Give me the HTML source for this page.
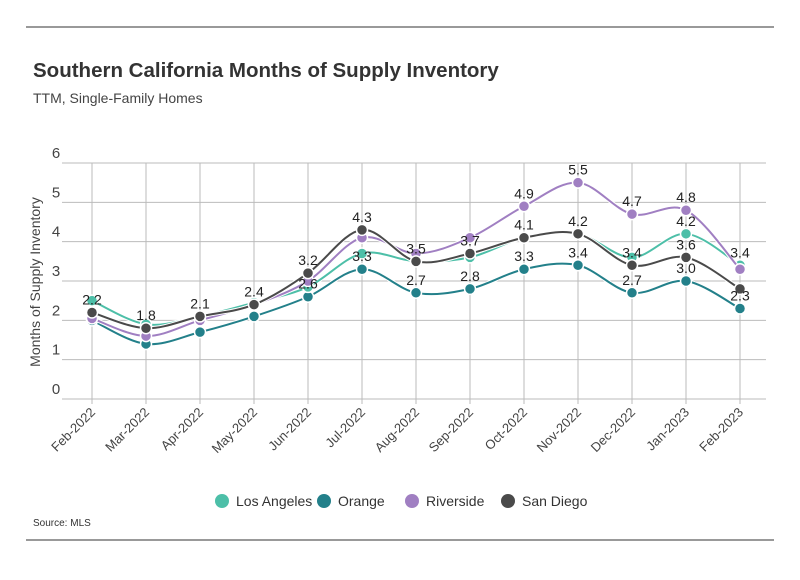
<!DOCTYPE html>
<html><head><meta charset="utf-8"><style>
body{margin:0;background:#fff;font-family:"Liberation Sans",sans-serif;}
svg text{font-family:"Liberation Sans",sans-serif;}
</style></head><body>
<svg id="c" width="800" height="575" xmlns="http://www.w3.org/2000/svg">
<line x1="26" y1="27" x2="774" y2="27" stroke="#333" stroke-width="1"/>
<line x1="26" y1="540" x2="774" y2="540" stroke="#333" stroke-width="1"/>
<text x="33" y="77" font-size="20.5" font-weight="bold" fill="#333">Southern California Months of Supply Inventory</text>
<text x="33" y="103" font-size="14" fill="#444">TTM, Single-Family Homes</text>
<text x="40" y="282" font-size="14" fill="#444" transform="rotate(-90 40 282)" text-anchor="middle">Months of Supply Inventory</text>
<text x="33" y="526" font-size="10" fill="#333">Source: MLS</text>
<g id="grid"></g><g id="series"></g><g id="labels"></g><g id="legend"></g>
</svg>
<script>
const months=["Feb-2022","Mar-2022","Apr-2022","May-2022","Jun-2022","Jul-2022","Aug-2022","Sep-2022","Oct-2022","Nov-2022","Dec-2022","Jan-2023","Feb-2023"];
const seriesNames=["Los Angeles","Orange","Riverside","San Diego"];
const seriesColors=["#4dbfa8","#23808a","#a07fc2","#4a4a4a"];
const losAngeles=[2.5,1.9,2.1,2.45,2.85,3.7,3.5,3.6,4.1,4.2,3.6,4.2,3.4];
const orange=[2.0,1.4,1.7,2.1,2.6,3.3,2.7,2.8,3.3,3.4,2.7,3.0,2.3];
const riverside=[2.05,1.6,2.0,2.4,3.0,4.1,3.7,4.1,4.9,5.5,4.7,4.8,3.3];
const sanDiego=[2.2,1.8,2.1,2.4,3.2,4.3,3.5,3.7,4.1,4.2,3.4,3.6,2.8];
const yTicks=[0,1,2,3,4,5,6];
const labelSeries=[[3],[3],[3],[3],[3,1],[3,1],[3,1],[3,1],[2,3,1],[2,3,1],[2,3,1],[2,0,3,1],[0,1]];
const data=[losAngeles,orange,riverside,sanDiego];
const NS="http://www.w3.org/2000/svg";
const x=i=>92+i*54;
const y=v=>399-v*39.33;
function mk(t,a,p){const e=document.createElementNS(NS,t);for(const k in a)e.setAttribute(k,a[k]);p.appendChild(e);return e;}
const grid=document.getElementById('grid');
yTicks.forEach(t=>{
 const l=mk('line',{x1:62,x2:766,y1:y(t),y2:y(t),stroke:'#bbb','stroke-width':1},grid);
 
 
 const tx=mk('text',{x:56,y:y(t)-5,'font-size':15,fill:'#444','text-anchor':'middle'},grid);tx.textContent=t;
 
 
});
months.forEach((m,i)=>{
 const l=mk('line',{x1:x(i),x2:x(i),y1:y(6),y2:y(0)+5,stroke:'#bbb','stroke-width':1},grid);
 
 
 const tx=mk('text',{x:x(i)+4,y:y(0)+14,'font-size':13,fill:'#444','text-anchor':'end',transform:`rotate(-45 ${x(i)+4} ${y(0)+14})`},grid);tx.textContent=m;
 
 
});
function path(vals){
 const p=vals.map((v,i)=>[x(i),y(v)]);let d=`M${p[0][0]},${p[0][1]}`;
 for(let i=0;i<p.length-1;i++){const p0=p[i-1]||p[i],p1=p[i],p2=p[i+1],p3=p[i+2]||p2;const k=6;
  d+=` C${p1[0]+(p2[0]-p0[0])/k},${p1[1]+(p2[1]-p0[1])/k} ${p2[0]-(p3[0]-p1[0])/k},${p2[1]-(p3[1]-p1[1])/k} ${p2[0]},${p2[1]}`;}
 return d;}
const sg=document.getElementById('series');
[1,0,2,3].forEach(s=>{
 const g=mk('g',{},sg);
 
 
 mk('path',{d:path(data[s]),fill:'none',stroke:'#fff','stroke-width':4},g);
 mk('path',{d:path(data[s]),fill:'none',stroke:seriesColors[s],'stroke-width':2},g);
 data[s].forEach((v,i)=>{const c=mk('circle',{cx:x(i),cy:y(v),r:5.5,fill:seriesColors[s],stroke:'#fff','stroke-width':1.5},g);
  
  });
});
const lg=document.getElementById('labels');
labelSeries.forEach((arr,i)=>arr.forEach(s=>{
 const t=mk('text',{x:x(i),y:y(data[s][i])-8,'font-size':14,fill:'#222','text-anchor':'middle'},lg);
 t.textContent=data[s][i].toFixed(1);
 
 
}));
const leg=document.getElementById('legend');
const lx=[222,324,412,508];
seriesNames.forEach((n,s)=>{
 const g=mk('g',{},leg);
 
 
 mk('circle',{cx:lx[s],cy:501,r:7,fill:seriesColors[s]},g);
 const t=mk('text',{x:lx[s]+14,y:506,'font-size':14,fill:'#333'},g);t.textContent=n;
});
</script>
</body></html>
